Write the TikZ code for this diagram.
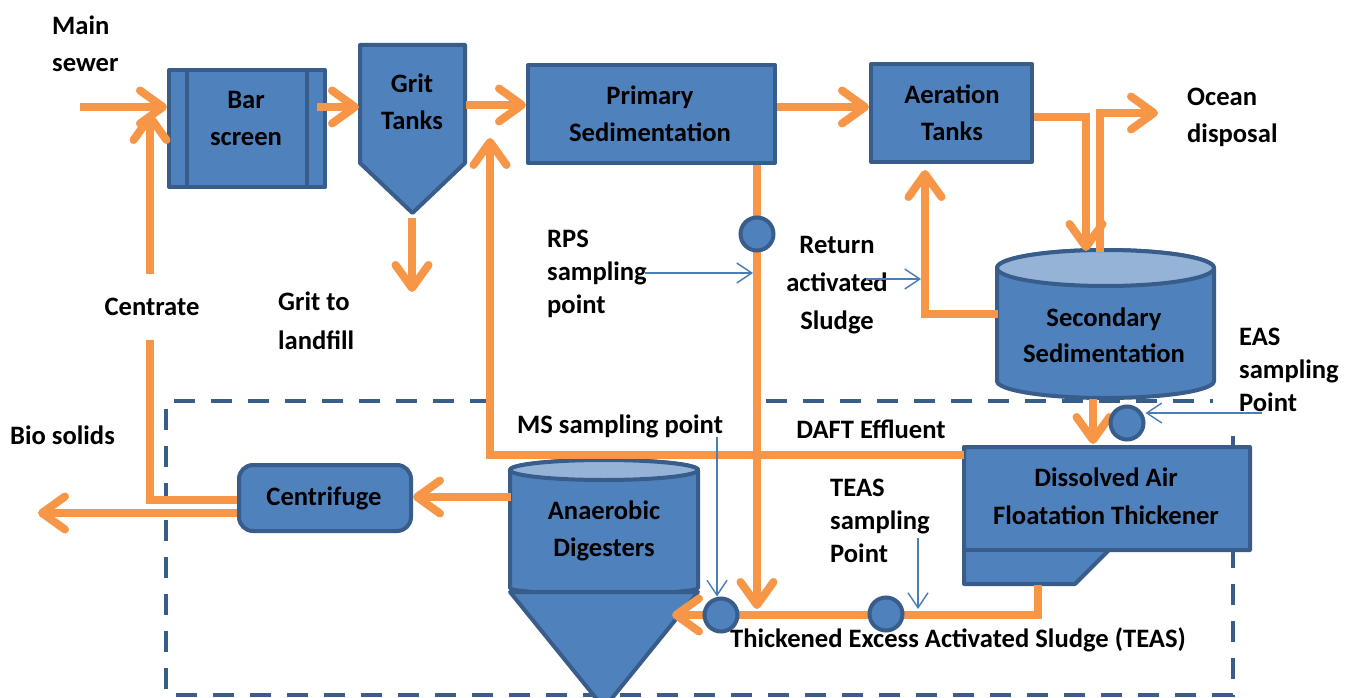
\documentclass[tikz,border=0pt]{standalone}
\usepackage{fontspec}
\setmainfont{Carlito}
\usetikzlibrary{arrows.meta}
\definecolor{unitfill}{HTML}{4F81BD}
\definecolor{unitedge}{HTML}{385D8A}
\definecolor{surface}{HTML}{95B3D7}
\definecolor{flowc}{HTML}{F79646}
\definecolor{probec}{HTML}{4A7EBB}
\tikzset{
  unit/.style={draw=unitedge, fill=unitfill, line width=4pt, line join=round, inner sep=0pt},
  txt/.style={font=\fontsize{26.6}{37}\selectfont\bfseries, align=center, inner sep=0pt, text=black},
  tight/.style={txt, font=\fontsize{26.6}{33}\selectfont\bfseries, align=left},
  pipe/.style={draw=flowc, line width=8pt},
  flow/.style={pipe, -{Straight Barb[length=23pt, width=33pt, round]}},
  probe/.style={draw=probec, line width=1.4pt, -{Straight Barb[length=15pt, width=20pt]}},
  spot/.style={circle, draw=unitedge, fill=unitfill, line width=4pt, minimum size=33pt, inner sep=0pt},
  zone/.style={draw=unitedge, line width=4.5pt, dash pattern=on 21pt off 16pt},
}
\begin{document}
\begin{tikzpicture}[x=1pt,y=-1pt]
\useasboundingbox (0,0) rectangle (1355,698);
\fill[white] (0,0) rectangle (1355,698);

% dashed boundary of the sludge treatment area
\draw[zone] (1233,436) -- (1233,695) -- (166,695) -- (166,401) -- (1213,401);
\fill[white] (495,396) rectangle (759,453);

% ---------- process units ----------
% bar screen
\node[unit, minimum width=156pt, minimum height=117pt] (bar) at (247,128.5) {};
\draw[unitedge, line width=4pt] ([xshift=20pt]bar.north west) -- ([xshift=20pt]bar.south west)
                                ([xshift=-20pt]bar.north east) -- ([xshift=-20pt]bar.south east);
% grit tanks
\draw[unit] (360,45) -- (465,45) -- (465,163) -- (412.5,213) -- (360,163) -- cycle;
\coordinate (g-in)  at (359,107);
\coordinate (g-out) at (466,105);
\coordinate (g-bot) at (412,218);
% primary sedimentation and aeration tanks
\node[unit, minimum width=247pt, minimum height=98pt] (prim) at (651.5,114) {};
\node[unit, minimum width=161pt, minimum height=98pt] (aer) at (951.5,113) {};
% secondary sedimentation (cylinder)
\draw[unit] (997,268) -- (997,381)
  arc[start angle=180, end angle=360, x radius=108.5pt, y radius=17pt] -- (1214,268)
  arc[start angle=0, end angle=180, x radius=108.5pt, y radius=18pt] -- cycle;
\draw[unit, fill=surface] (1105.5,268) ellipse[x radius=108.5pt, y radius=18pt];
\coordinate (s2-tl)  at (1086,251);
\coordinate (s2-tr)  at (1100,252);
\coordinate (s2-left) at (998,314);
\coordinate (s2-bot) at (1093,399);
% dissolved air floatation thickener
\draw[unit] (964,447) -- (1250,447) -- (1250,550) -- (1109,550) -- (1075,584) -- (964,584) -- cycle;
\draw[unitedge, line width=4pt] (964,550) -- (1109,550);
\coordinate (daft-top)  at (1093,444);
\coordinate (daft-left) at (964,455);
\coordinate (daft-bot)  at (1038,585);
% anaerobic digesters (cylinder over a cone)
\draw[unit] (510,470) -- (510,588)
  arc[start angle=180, end angle=360, x radius=94pt, y radius=6pt] -- (698,470)
  arc[start angle=0, end angle=180, x radius=94pt, y radius=10pt] -- cycle;
\draw[unit, fill=surface] (604,470) ellipse[x radius=94pt, y radius=10pt];
\draw[unit] (510,592) -- (698,592) -- (604,708) -- cycle;
\coordinate (dig-left) at (511,497);
\coordinate (dig-in)   at (672,615);
% centrifuge
\node[unit, rounded corners=14pt, minimum width=172pt, minimum height=66pt] (cent) at (325,498) {};

% ---------- free ends and bends ----------
\coordinate (sewer)   at (80,107);
\coordinate (main)    at (0,107);
\coordinate (ocean)   at (1158,113);
\coordinate (aerout)  at (0,117);
\coordinate (ras)     at (925,170);
\coordinate (grit)    at (412,292);
\coordinate (ret)     at (490,138);
\coordinate (rps-end) at (757,609);
\coordinate (ctr-top) at (150,113);
\coordinate (ctr-lvl) at (0,500);
\coordinate (bio-lvl) at (0,513);
\coordinate (bio)     at (38,513);

% ---------- flows ----------
\draw[flow] (sewer) -- (sewer -| bar.west);
\draw[flow] ([xshift=-10pt]bar.east |- sewer) -- (g-in);
\draw[flow] (g-out) -- (g-out -| prim.west);
\draw[flow] (prim.east |- main) -- (aer.west |- main);
\draw[flow] (g-bot) -- (grit);
\draw[flow] (aer.east |- aerout) -- (s2-tl |- aerout) -- (s2-tl);
\draw[flow] (s2-tr) -- (s2-tr |- ocean) -- (ocean);
\draw[flow] (s2-left) -- (s2-left -| ras) -- (ras);
\draw[flow] (prim.south -| rps-end) -- (rps-end);
\draw[flow] (s2-bot) -- (daft-top);
\draw[flow] (daft-left) -- (daft-left -| ret) -- (ret);
\draw[flow] (daft-bot) -- (daft-bot |- dig-in) -- (dig-in);
\draw[flow] (dig-left) -- (dig-left -| cent.east);
\draw[flow] (cent.west |- ctr-lvl) -- (ctr-top |- ctr-lvl) -- (ctr-top);
\draw[flow] (cent.west |- bio-lvl) -- (bio);

% ---------- labels ----------
\node[txt, anchor=west, align=left] (l-sewer) at (52,44) {Main\\sewer};
\node[txt] (t-bar)  at (246,118.5) {Bar\\screen};
\node[txt] (t-grit) at (412,101.5) {Grit\\Tanks};
\node[txt] (t-prim) at (650,113.5) {Primary\\Sedimentation};
\node[txt] (t-aer)  at (952,112.5) {Aeration\\Tanks};
\node[txt, anchor=west, align=left] (l-ocean) at (1187,117) {Ocean\\disposal};
\node[tight, anchor=west] (l-rps) at (547,274) {RPS\\sampling\\point};
\node[txt, font=\fontsize{26.6}{38}\selectfont\bfseries] (l-ras) at (837,285) {Return\\activated\\Sludge};
\node[txt, font=\fontsize{26.6}{36}\selectfont\bfseries] (t-sec) at (1104,335) {Secondary\\Sedimentation};
\node[tight, anchor=west] (l-eas) at (1239,370) {EAS\\sampling\\Point};
\node[txt, fill=white, minimum height=66pt, inner xsep=2pt] (l-ctr) at (152,307) {Centrate};
\node[txt, font=\fontsize{26.6}{39}\selectfont\bfseries, anchor=west, align=left] (l-grit) at (278,320.5) {Grit to\\landfill};
\node[txt, anchor=west] (l-bio) at (10,435) {Bio solids};
\node[txt] (l-ms) at (620,426) {MS sampling point};
\node[txt] (l-daft) at (871,429) {DAFT Effluent};
\node[txt, font=\fontsize{26.6}{38}\selectfont\bfseries] (t-daft) at (1106,496) {Dissolved Air\\Floatation Thickener};
\node[tight, anchor=west] (l-teas) at (830,521) {TEAS\\sampling\\Point};
\node[txt] (t-dig) at (604,530.5) {Anaerobic\\Digesters};
\node[txt] (t-cent) at (324,498) {Centrifuge};
\node[txt] (l-tline) at (958,640) {Thickened Excess Activated Sludge (TEAS)};

% ---------- sampling points ----------
\coordinate (p-rps)  at (645,273);
\coordinate (p-ras)  at (866,279);
\coordinate (p-eas)  at (1262,413);
\coordinate (p-ms)   at (717,437);
\coordinate (p-teas) at (918,538);
\node[spot] (rps)  at (757,234) {};
\node[spot] (eas)  at (1127,423) {};
\node[spot] (ms)   at (721,615) {};
\node[spot] (teas) at (886,614) {};
\draw[probe] (p-rps) -- (753,273);
\draw[probe] (p-ras) -- (921,279);
\draw[probe] (p-eas) -- (eas.east |- p-eas);
\draw[probe] (p-ms) -- (ms.north -| p-ms);
\draw[probe] (p-teas) -- (918,609);
\end{tikzpicture}
\end{document}
